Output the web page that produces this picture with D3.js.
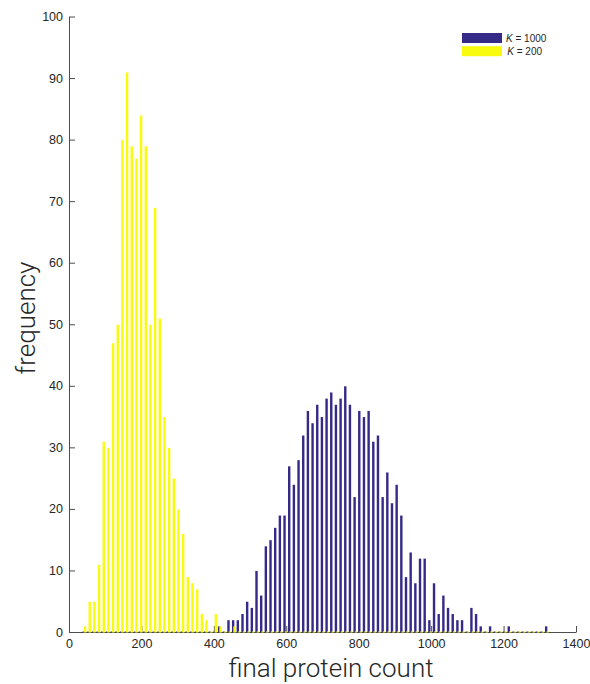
<!DOCTYPE html>
<html>
<head>
<meta charset="utf-8">
<script src="https://cdn.jsdelivr.net/npm/d3@7"></script>
<style>
  html, body { margin: 0; padding: 0; background: #fff; }
  svg { display: block; }
  text { font-family: "Helvetica Neue", Helvetica, "Liberation Sans", Arial, sans-serif; fill: #262626; }
  .axis-label { font-family: "Helvetica Neue", Roboto, "Open Sans", "Liberation Sans", sans-serif; font-weight: 300; }
</style>
</head>
<body>
<svg id="chart" width="590" height="684"></svg>
<script>
// Histogram bin centres (final protein count), 100 bins
const binCenters = [
  42.4, 55.3, 68.2, 81.1, 94.0, 106.9, 119.8, 132.7, 145.6, 158.5,
  171.4, 184.3, 197.2, 210.1, 223.0, 235.9, 248.8, 261.7, 274.6, 287.5,
  300.4, 313.3, 326.2, 339.1, 352.0, 364.9, 377.8, 390.7, 403.6, 416.5,
  429.4, 442.3, 455.2, 468.1, 481.0, 493.9, 506.8, 519.7, 532.6, 545.5,
  558.4, 571.3, 584.2, 597.1, 610.0, 622.9, 635.8, 648.7, 661.6, 674.5,
  687.4, 700.3, 713.2, 726.1, 739.0, 751.9, 764.8, 777.7, 790.6, 803.5,
  816.4, 829.3, 842.2, 855.1, 868.0, 880.9, 893.8, 906.7, 919.6, 932.5,
  945.4, 958.3, 971.2, 984.1, 997.0, 1009.9, 1022.8, 1035.7, 1048.6, 1061.5,
  1074.4, 1087.3, 1100.2, 1113.1, 1126.0, 1138.9, 1151.8, 1164.7, 1177.6, 1190.5,
  1203.4, 1216.3, 1229.2, 1242.1, 1255.0, 1267.9, 1280.8, 1293.7, 1306.6, 1319.5
];

// Counts per bin, K = 1000
const countsK1000 = [
  0, 0, 0, 0, 0, 0, 0, 0, 0, 0,
  0, 0, 0, 0, 0, 0, 0, 0, 0, 0,
  0, 0, 0, 0, 0, 0, 0, 0, 0, 1,
  0, 2, 2, 2, 3, 5, 4, 10, 6, 14,
  15, 17, 19, 19, 27, 24, 28, 32, 36, 34,
  37, 35, 38, 39, 37, 38, 40, 37, 22, 36,
  35, 36, 31, 32, 22, 26, 21, 24, 19, 9,
  13, 8, 12, 12, 2, 8, 3, 6, 4, 3,
  2, 2, 0, 4, 3, 1, 0, 1, 0, 0,
  0, 1, 0, 0, 0, 0, 0, 0, 0, 1
];

// Counts per bin, K = 200
const countsK200 = [
  1, 5, 5, 11, 31, 30, 47, 50, 80, 91,
  79, 77, 84, 79, 50, 69, 51, 35, 30, 25,
  20, 16, 9, 8, 7, 3, 2, 0, 3, 1,
  0, 0, 1, 0, 0, 0, 0, 0, 0, 0,
  0, 0, 0, 0, 0, 0, 0, 0, 0, 0,
  0, 0, 0, 0, 0, 0, 0, 0, 0, 0,
  0, 0, 0, 0, 0, 0, 0, 0, 0, 0,
  0, 0, 0, 0, 0, 0, 0, 0, 0, 0,
  0, 0, 0, 0, 0, 0, 0, 0, 0, 0,
  0, 0, 0, 0, 0, 0, 0, 0, 0, 0
];

const seriesNames = ["1000", "200"];
const seriesColors = ["#352a87", "#f9fb0e"];
const xTicks = [0, 200, 400, 600, 800, 1000, 1200, 1400];
const yTicks = [0, 10, 20, 30, 40, 50, 60, 70, 80, 90, 100];

const svg = d3.select("#chart");
const x = d3.scaleLinear().domain([0, 1400]).range([69, 576]);
const y = d3.scaleLinear().domain([0, 100]).range([632, 16.5]);

// axes (ticks point inward)
const xAxis = d3.axisBottom(x).tickValues(xTicks).tickFormat(d3.format("d"))
  .tickSize(-6).tickPadding(7).tickSizeOuter(0);
const yAxis = d3.axisLeft(y).tickValues(yTicks).tickFormat(d3.format("d"))
  .tickSize(-6).tickPadding(6).tickSizeOuter(0);

const gx = svg.append("g").attr("transform", `translate(0,${y(0)})`).call(xAxis);
const gy = svg.append("g").attr("transform", `translate(${x(0)},0)`).call(yAxis);
[gx, gy].forEach(g => {
  g.select(".domain").attr("stroke", "#4d4d4d").attr("stroke-width", 1);
  g.selectAll(".tick line").attr("stroke", "#4d4d4d");
  g.selectAll(".tick text").attr("font-size", 12.5).style("fill", "#262626")
    .attr("font-family", "'Helvetica Neue', Helvetica, 'Liberation Sans', Arial, sans-serif");
});

// grouped histogram bars: K = 1000 left of the bin centre, K = 200 right
const barW = 2.4, shift = 0.7;
const groups = [countsK1000, countsK200];
groups.forEach((counts, s) => {
  const off = s === 0 ? -shift : shift;
  svg.append("g").selectAll("rect")
    .data(binCenters.map((c, i) => ({ c, v: counts[i] })))
    .join("rect")
    .attr("x", d => x(d.c) + off - barW / 2)
    .attr("width", barW)
    .attr("y", d => Math.min(y(d.v), y(0) - 1) + 0.5)
    .attr("height", d => Math.max(y(0) - y(d.v), 1))
    .attr("fill", seriesColors[s]);
});

// legend
const legend = svg.append("g").attr("transform", "translate(462,33)");
seriesNames.forEach((name, i) => {
  const row = legend.append("g").attr("transform", `translate(0,${i * 13.2})`);
  row.append("rect").attr("width", 40).attr("height", 10).attr("fill", seriesColors[i]);
  const t = row.append("text").attr("x", 44 + i * 1.3).attr("y", 5).attr("dy", "0.35em")
    .attr("font-size", 10);
  t.append("tspan").attr("font-style", "italic").text("K");
  t.append("tspan").text(" = " + name);
});

// axis titles
svg.append("text").attr("class", "axis-label")
  .attr("x", 331).attr("y", 677).attr("text-anchor", "middle")
  .attr("font-size", 26).text("final protein count");
svg.append("text").attr("class", "axis-label")
  .attr("transform", "translate(35,318) rotate(-90)").attr("text-anchor", "middle")
  .attr("font-size", 26).text("frequency");
</script>
</body>
</html>
